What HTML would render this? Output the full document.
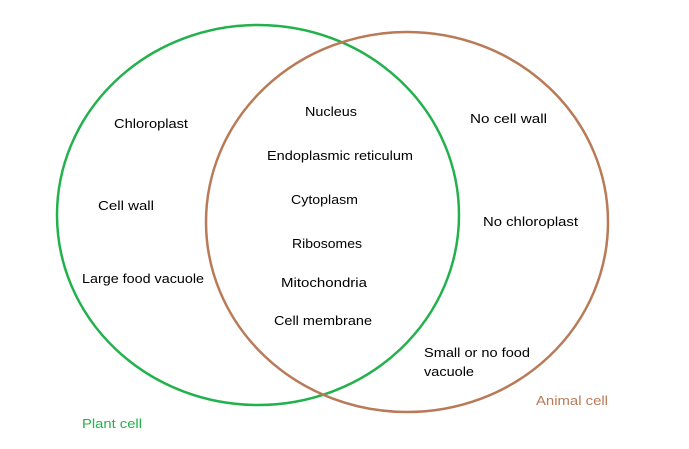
<!DOCTYPE html>
<html><head><meta charset="utf-8"><style>
html,body{margin:0;padding:0;background:#fff;}
svg{display:block;}
text{font-family:"Liberation Sans",sans-serif;font-size:13px;fill:#000;}
</style></head><body>
<svg width="689" height="449" viewBox="0 0 689 449">
<ellipse cx="258" cy="215" rx="201" ry="190" fill="none" stroke="#22b14c" stroke-width="2.5"/>
<ellipse cx="407" cy="222" rx="201" ry="190" fill="none" stroke="#b97a57" stroke-width="2.5"/>
<text x="114" y="128" textLength="74" lengthAdjust="spacingAndGlyphs">Chloroplast</text>
<text x="98" y="210" textLength="56" lengthAdjust="spacingAndGlyphs">Cell wall</text>
<text x="82" y="283" textLength="122" lengthAdjust="spacingAndGlyphs">Large food vacuole</text>
<text x="305" y="116" textLength="52" lengthAdjust="spacingAndGlyphs">Nucleus</text>
<text x="267" y="160" textLength="146" lengthAdjust="spacingAndGlyphs">Endoplasmic reticulum</text>
<text x="291" y="204" textLength="67" lengthAdjust="spacingAndGlyphs">Cytoplasm</text>
<text x="292" y="248" textLength="70" lengthAdjust="spacingAndGlyphs">Ribosomes</text>
<text x="281" y="287" textLength="86" lengthAdjust="spacingAndGlyphs">Mitochondria</text>
<text x="274" y="325" textLength="98" lengthAdjust="spacingAndGlyphs">Cell membrane</text>
<text x="470" y="123" textLength="77" lengthAdjust="spacingAndGlyphs">No cell wall</text>
<text x="483" y="226" textLength="95" lengthAdjust="spacingAndGlyphs">No chloroplast</text>
<text x="424" y="357" textLength="106" lengthAdjust="spacingAndGlyphs">Small or no food</text>
<text x="424" y="376" textLength="50" lengthAdjust="spacingAndGlyphs">vacuole</text>
<text x="536" y="405" textLength="72" lengthAdjust="spacingAndGlyphs" style="fill:#b97a57">Animal cell</text>
<text x="82" y="428" textLength="60" lengthAdjust="spacingAndGlyphs" style="fill:#22b14c">Plant cell</text>
</svg>
</body></html>
